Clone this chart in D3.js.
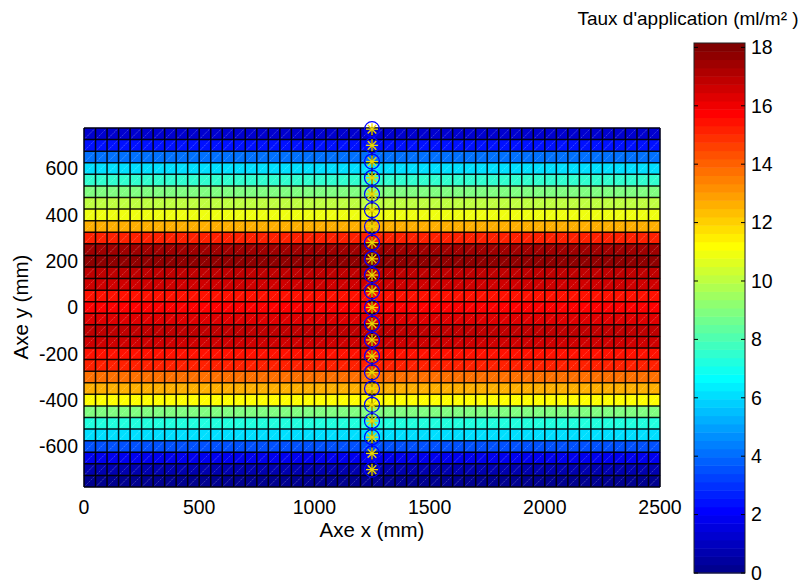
<!DOCTYPE html>
<html>
<head>
<meta charset="utf-8">
<script src="https://cdn.jsdelivr.net/npm/d3@7/dist/d3.min.js"></script>
<style>
  html, body { margin: 0; padding: 0; background: #fff; }
  svg { display: block; font-family: "Liberation Sans", Arial, sans-serif; }
</style>
</head>
<body>
<svg id="chart" width="806" height="584"></svg>
<script>
// Application rate (ml/m²) per mesh row, listed from the top row (y = 775) down to the bottom row (y = -775)
const rowValues = [1.3, 2.45, 4.1, 6.2, 7.5, 8.9, 10.1, 10.9, 12.6, 15.2,
                   17.4, 17.7, 16.9, 16.6, 15.5, 15.7, 16.3, 16.9, 16.5, 15.5,
                   15.2, 13.8, 12.6, 11.2, 8.8, 7.2, 6.1, 3.5, 1.8, 0.7, 0.1];
// Mesh node coordinates (mm)
const xNodes = d3.range(0, 2501, 50);
const yNodes = d3.range(775, -776, -50);
// Nozzle positions along the centre line (mm)
const nozzleX = 1250;
const nozzleY = [770, 700, 630, 560, 490, 420, 350, 280, 210, 140, 70, 0,
                 -70, -140, -210, -280, -350, -420, -490, -560, -630, -700];
// Axis ticks
const xTicks = [0, 500, 1000, 1500, 2000, 2500];
const yTicks = [600, 400, 200, 0, -200, -400, -600];
const cbTicks = [0, 2, 4, 6, 8, 10, 12, 14, 16, 18];
const colorDomain = [0, 18.15];
const cbTitle = "Taux d'application (ml/m² )";

// MATLAB-style jet colormap, 64 entries
function jet(i) {
  const r = i <= 24 ? 0 : i <= 40 ? (i - 24) / 16 : i <= 56 ? 1 : 1 - (i - 56) / 16;
  const g = i <= 8 ? 0 : i <= 24 ? (i - 8) / 16 : i <= 40 ? 1 : i <= 56 ? 1 - (i - 40) / 16 : 0;
  const b = i <= 8 ? 0.5 + i / 16 : i <= 24 ? 1 : i <= 40 ? 1 - (i - 24) / 16 : 0;
  return d3.rgb(r * 255, g * 255, b * 255).formatHex();
}
const jetColors = d3.range(1, 65).map(jet);
const color = d3.scaleQuantize().domain(colorDomain).range(jetColors);

const svg = d3.select("#chart");
const x = d3.scaleLinear().domain([0, 2500]).range([84, 660]);
const y = d3.scaleLinear().domain([-775, 775]).range([487, 128]);

// Faceted triangular mesh
const mesh = svg.append("g");
const cells = [];
for (let r = 0; r < yNodes.length - 1; r++) {
  for (let c = 0; c < xNodes.length - 1; c++) {
    cells.push({ x0: xNodes[c], x1: xNodes[c + 1], y0: yNodes[r + 1], y1: yNodes[r], v: rowValues[r] });
  }
}
const tri = (pts) => "M" + pts.map(p => x(p[0]) + "," + y(p[1])).join("L") + "Z";
mesh.selectAll("path.lower").data(cells).join("path")
  .attr("d", d => tri([[d.x0, d.y0], [d.x1, d.y0], [d.x1, d.y1]]))
  .attr("fill", d => color(d.v)).attr("stroke", d => color(d.v)).attr("stroke-width", 0.6);
mesh.selectAll("path.upper").data(cells).join("path")
  .attr("d", d => tri([[d.x0, d.y0], [d.x1, d.y1], [d.x0, d.y1]]))
  .attr("fill", d => color(d.v)).attr("stroke", d => color(d.v)).attr("stroke-width", 0.6);
// Triangle diagonals (light dotted)
mesh.selectAll("line.diag").data(cells).join("line")
  .attr("x1", d => x(d.x0)).attr("y1", d => y(d.y0))
  .attr("x2", d => x(d.x1)).attr("y2", d => y(d.y1))
  .attr("stroke", "rgba(255,255,255,0.35)").attr("stroke-width", 0.8)
  .attr("stroke-dasharray", "1,1.5");
// Mesh edges
mesh.selectAll("line.h").data(yNodes).join("line")
  .attr("x1", x(0)).attr("x2", x(2500))
  .attr("y1", d => y(d)).attr("y2", d => y(d))
  .attr("stroke", "#000").attr("stroke-width", 1.5).attr("stroke-opacity", 0.9);
mesh.selectAll("line.v").data(xNodes).join("line")
  .attr("y1", y(775)).attr("y2", y(-775))
  .attr("x1", d => x(d)).attr("x2", d => x(d))
  .attr("stroke", "#000").attr("stroke-width", 1.5).attr("stroke-opacity", 0.9);

// Nozzle markers: blue circles and yellow asterisks
const marks = svg.append("g");
marks.selectAll("circle").data(nozzleY).join("circle")
  .attr("cx", x(nozzleX)).attr("cy", d => y(d)).attr("r", 7.5)
  .attr("fill", "none").attr("stroke", "#0000ff").attr("stroke-width", 1.2);
const star = marks.selectAll("g.star").data(nozzleY).join("g")
  .attr("transform", d => `translate(${x(nozzleX)},${y(d)})`)
  .attr("stroke", "#ecd800").attr("stroke-width", 1.3);
const s = 6, sd = 4.3;
star.append("line").attr("x1", -s).attr("x2", s).attr("y1", 0).attr("y2", 0);
star.append("line").attr("x1", 0).attr("x2", 0).attr("y1", -s).attr("y2", s);
star.append("line").attr("x1", -sd).attr("x2", sd).attr("y1", -sd).attr("y2", sd);
star.append("line").attr("x1", -sd).attr("x2", sd).attr("y1", sd).attr("y2", -sd);

// Axis tick labels and titles
const fs = 19.5;
svg.append("g").selectAll("text").data(xTicks).join("text")
  .attr("x", d => x(d)).attr("y", 514).attr("text-anchor", "middle")
  .attr("font-size", fs).text(d => d);
svg.append("g").selectAll("text").data(yTicks).join("text")
  .attr("x", 78).attr("y", d => y(d)).attr("dy", "0.35em").attr("text-anchor", "end")
  .attr("font-size", fs).text(d => d);
svg.append("text").attr("x", 372).attr("y", 537).attr("text-anchor", "middle")
  .attr("font-size", 20.5).text("Axe x (mm)");
svg.append("text").attr("transform", "translate(28,307) rotate(-90)").attr("text-anchor", "middle")
  .attr("font-size", 20.5).text("Axe y (mm)");

// Colorbar
const cbX0 = 694, cbX1 = 745;
const cb = d3.scaleLinear().domain(colorDomain).range([573, 43]);
const step = (colorDomain[1] - colorDomain[0]) / 64;
const cbg = svg.append("g");
cbg.selectAll("rect").data(jetColors).join("rect")
  .attr("x", cbX0).attr("width", cbX1 - cbX0)
  .attr("y", (d, i) => cb(colorDomain[0] + (i + 1) * step))
  .attr("height", (d, i) => cb(colorDomain[0] + i * step) - cb(colorDomain[0] + (i + 1) * step) + 0.5)
  .attr("fill", d => d);
cbg.append("rect").attr("x", cbX0).attr("y", cb(colorDomain[1])).attr("width", cbX1 - cbX0)
  .attr("height", cb(colorDomain[0]) - cb(colorDomain[1]))
  .attr("fill", "none").attr("stroke", "#222").attr("stroke-width", 1);
cbg.selectAll("line.tl").data(cbTicks).join("line")
  .attr("x1", cbX0).attr("x2", cbX0 + 4).attr("y1", d => cb(d)).attr("y2", d => cb(d))
  .attr("stroke", "#000");
cbg.selectAll("line.tr").data(cbTicks).join("line")
  .attr("x1", cbX1 - 4).attr("x2", cbX1).attr("y1", d => cb(d)).attr("y2", d => cb(d))
  .attr("stroke", "#000");
cbg.selectAll("text").data(cbTicks).join("text")
  .attr("x", 751).attr("y", d => cb(d)).attr("dy", "0.35em")
  .attr("font-size", fs).text(d => d);
svg.append("text").attr("x", 688).attr("y", 25).attr("text-anchor", "middle")
  .attr("font-size", 19).text(cbTitle);
</script>
</body>
</html>
